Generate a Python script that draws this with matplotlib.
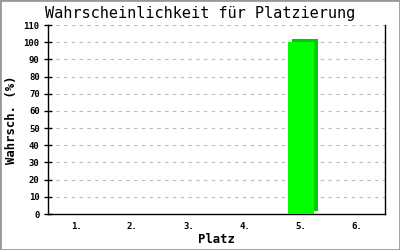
"""Wahrscheinlichkeit fuer Platzierung - bar chart with a simple 3D shadow."""

import matplotlib

matplotlib.use("Agg")
import matplotlib.pyplot as plt
from matplotlib import transforms
from matplotlib.patches import Rectangle

PLACES = ["1.", "2.", "3.", "4.", "5.", "6."]
PROBABILITY = [0, 0, 0, 0, 100, 0]
Y_TICKS = list(range(0, 111, 10))

FONT = "DejaVu Sans Mono"

fig = plt.figure(figsize=(4.0, 2.5), dpi=100)
fig.patches.append(Rectangle((0, 0), 1, 1, transform=fig.transFigure, fill=False,
                             edgecolor="#999999", linewidth=2.0))
ax = fig.add_axes([48 / 400, 36 / 250, 337 / 400, 189 / 250])

positions = list(range(1, len(PLACES) + 1))
shadow = transforms.offset_copy(ax.transData, fig=fig, x=4, y=3, units="dots")
for pos, value in zip(positions, PROBABILITY):
    if value <= 0:
        continue
    ax.bar(pos, value, width=0.47, color="#00CC00", linewidth=0, transform=shadow, zorder=2)
    ax.bar(pos, value, width=0.47, color="#00FF00", linewidth=0, zorder=3)

ax.set_xlim(0.5, len(PLACES) + 0.5)
ax.set_ylim(0, 110)
ax.set_xticks(positions)
ax.set_xticklabels(PLACES)
ax.set_yticks(Y_TICKS)
ax.yaxis.grid(True, color="#bbbbbb", linestyle=(0, (3, 4)), linewidth=0.8)
ax.set_axisbelow(True)

ax.spines["top"].set_visible(False)
for side in ["left", "bottom", "right"]:
    ax.spines[side].set_linewidth(1.0)
ax.tick_params(axis="x", length=0, pad=6, labelsize=6.5)
ax.tick_params(axis="y", direction="inout", length=6, width=1.0, labelsize=6.5, pad=3)
for label in ax.get_xticklabels() + ax.get_yticklabels():
    label.set_fontfamily(FONT)
    label.set_fontweight("bold")

ax.set_xlabel("Platz", fontfamily=FONT, fontweight="bold", fontsize=8.8, labelpad=1)
ax.set_ylabel("Wahrsch. (%)", fontfamily=FONT, fontweight="bold", fontsize=8.8)
ax.yaxis.set_label_coords(-0.088, 0.5)
fig.suptitle("Wahrscheinlichkeit für Platzierung", fontfamily=FONT, fontsize=11,
             x=0.5, y=0.975, va="top")

fig.savefig("out.png", dpi=100)
plt.close(fig)
